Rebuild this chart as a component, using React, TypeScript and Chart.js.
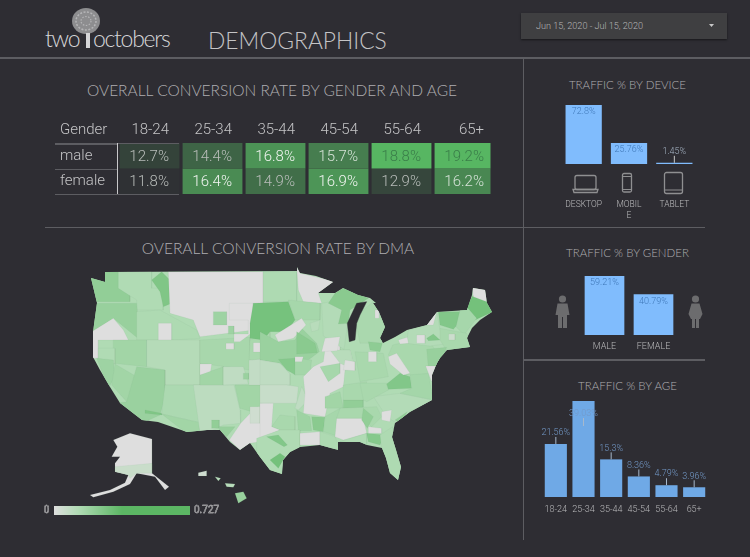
import React, { useEffect, useRef } from "react";
import { Chart, registerables } from "chart.js";

/* ---------- data ---------- */
const ageGroups = ["18-24", "25-34", "35-44", "45-54", "55-64", "65+"];
const tableColumns = ["Gender", ...ageGroups];
const maleRates = [12.7, 14.4, 16.8, 15.7, 18.8, 19.2];
const femaleRates = [11.8, 16.4, 14.9, 16.9, 12.9, 16.2];

const deviceLabels: (string | string[])[] = ["DESKTOP", ["MOBIL", "E"], "TABLET"];
const deviceShare = [72.8, 25.76, 1.45];
const genderLabels = ["MALE", "FEMALE"];
const genderShare = [59.21, 40.79];
const ageShare = [21.56, 39.03, 15.3, 8.36, 4.79, 3.96];

type Pt = [number, number];
type Region = [number, number[]];

/* map-unit outline of the lower 48 */
const nationOutline: Pt[] = [
  [105, 272], [297, 271], [297, 267], [300, 273], [316, 276], [333, 282], [318, 293], [335, 293], [343, 288], [358, 295], [370, 298], [376, 303],
  [373, 303], [379, 312], [385, 327], [380, 338], [383, 343], [395, 337], [407, 330], [427, 325], [437, 312], [467, 310], [472, 295], [473, 288],
  [485, 290], [487, 303], [492, 312], [480, 320], [472, 328], [467, 338], [470, 347], [447, 350], [440, 358], [437, 363], [432, 375], [432, 393], [432, 400], [410, 412],
  [395, 423], [392, 437], [396, 450], [401, 467], [398, 480], [390, 473], [386, 458], [382, 448], [367, 445], [360, 442], [338, 442], [338, 450],
  [320, 445], [300, 447], [290, 452], [283, 460], [282, 474], [270, 470], [260, 457], [250, 443], [240, 450], [230, 442], [220, 430],
  [207, 430], [187, 432], [158, 422], [142, 420], [120, 403], [110, 387], [100, 370], [93, 357], [93, 332], [97, 303],
  [91, 278], [105, 282],
];
/* lake shown inside the outline, in east-sheet units */
const lakeMichigan = [320, 125, 290, 130, 262, 190, 268, 245, 285, 240, 290, 190, 300, 165];

/* DMA patches: [rate share 0-1, x,y,x,y…] in west-sheet map units */
const westRegions: Region[] = [
  [0.55, [183, 35, 300, 35, 300, 125, 183, 125]],
  [0.3, [265, 35, 365, 35, 365, 85, 400, 85, 400, 150, 320, 150, 320, 120, 265, 85]],
  [0.7, [365, 60, 395, 35, 430, 70, 425, 130, 400, 140, 390, 95]],
  [0, [415, 35, 700, 35, 700, 130, 670, 130, 670, 210, 510, 230, 490, 180, 420, 160]],
  [0.5, [190, 130, 320, 130, 330, 240, 250, 175, 190, 215]],
  [0, [185, 215, 250, 175, 280, 210, 295, 240, 205, 240, 205, 295, 185, 295]],
  [0.32, [320, 155, 390, 150, 500, 210, 510, 235, 430, 240, 320, 240]],
  [0, [385, 190, 425, 190, 425, 240, 385, 240]],
  [0.42, [250, 240, 350, 240, 350, 320, 250, 310]],
  [0.27, [350, 240, 510, 240, 510, 375, 405, 375, 405, 330, 350, 320]],
  [0.3, [205, 265, 255, 265, 255, 312, 205, 295]],
  [0.45, [200, 295, 250, 300, 255, 350, 235, 385]],
  [0.42, [255, 312, 320, 350, 320, 395, 290, 425, 245, 375]],
  [0.48, [320, 320, 405, 330, 405, 410, 390, 465, 335, 490, 260, 430, 290, 425]],
  [0.7, [345, 450, 395, 460, 395, 465, 345, 460]],
  [0.33, [405, 375, 510, 375, 510, 488, 395, 462]],
  [0.42, [395, 462, 510, 488, 510, 520, 470, 520]],
  [0.22, [490, 375, 612, 375, 630, 450, 632, 490, 580, 495, 550, 510, 510, 520]],
  [0.55, [545, 480, 568, 480, 568, 505, 545, 505]],
  [0.5, [568, 500, 615, 500, 590, 530, 568, 510]],
  [0.37, [510, 240, 660, 232, 660, 330, 510, 310]],
  [0, [510, 312, 545, 312, 540, 345, 510, 345]],
  [0.42, [510, 345, 580, 320, 580, 375, 510, 375]],
  [0.2, [580, 320, 640, 320, 655, 372, 580, 375]],
  [0.48, [640, 340, 657, 340, 657, 358, 640, 358]],
  [0.42, [615, 375, 697, 375, 697, 430, 665, 455, 630, 445]],
  [0.18, [657, 300, 720, 295, 720, 375, 657, 375]],
  [0.36, [660, 240, 720, 215, 720, 295, 657, 300]],
  [0.45, [550, 155, 590, 155, 590, 195, 550, 195]],
  [0.45, [595, 198, 612, 198, 612, 222, 595, 222]],
  [0, [612, 222, 655, 222, 655, 180, 598, 180, 598, 130, 670, 130, 670, 215, 630, 245, 612, 245]],
  [0, [588, 250, 612, 250, 612, 268, 588, 268]],
  [0, [670, 248, 692, 248, 692, 276, 670, 276]],
  [0, [598, 540, 632, 490, 665, 455, 720, 430, 720, 540, 660, 550, 630, 570]],
  [0.1, [660, 440, 690, 440, 690, 490, 660, 490]],
];

/* DMA patches in east-sheet map units */
const eastRegions: Region[] = [
  [0.32, [10, 35, 110, 35, 110, 125, 10, 125]],
  [0, [110, 20, 120, 40, 230, 65, 175, 100, 185, 130, 130, 125, 115, 90]],
  [0.38, [85, 120, 182, 130, 180, 180, 105, 180]],
  [0.78, [-20, 130, 85, 125, 105, 180, 80, 215, 30, 215, 10, 240, -30, 235, -30, 190]],
  [0.48, [0, 215, 55, 245, 105, 240, 125, 205, 170, 250, 178, 275, 145, 300, 105, 345, 60, 310, 0, 300]],
  [0, [45, 225, 125, 175, 138, 195, 100, 235, 55, 245]],
  [0.62, [110, 215, 165, 250, 172, 278, 110, 282]],
  [0.65, [55, 298, 105, 295, 108, 345, 80, 330]],
  [0.4, [105, 295, 155, 300, 150, 345, 105, 345]],
  [0, [105, 290, 130, 290, 125, 305, 105, 305]],
  [0.2, [0, 300, 60, 310, 90, 342, 90, 375, 0, 375]],
  [0.15, [0, 375, 80, 375, 115, 380, 110, 430, 0, 430]],
  [0.2, [125, 380, 145, 420, 115, 450, 105, 445]],
  [0, [160, 320, 190, 305, 200, 235, 240, 230, 240, 270, 270, 270, 285, 330, 255, 330, 250, 380, 210, 400, 195, 470, 130, 460, 135, 400, 130, 350]],
  [0.38, [180, 320, 240, 310, 240, 340, 205, 365]],
  [0.25, [210, 270, 270, 270, 285, 330, 240, 310]],
  [0, [255, 300, 285, 305, 285, 332, 250, 330]],
  [0.42, [195, 410, 240, 395, 250, 445, 195, 445]],
  [0.55, [250, 420, 310, 420, 310, 445, 250, 445]],
  [0.36, [250, 375, 320, 365, 310, 420, 250, 420]],
  [0.36, [35, 500, 60, 465, 105, 470, 105, 510, 60, 510]],
  [0.45, [110, 450, 150, 470, 155, 512, 115, 512]],
  [0.62, [155, 470, 195, 472, 190, 515, 160, 510]],
  [0.38, [195, 470, 240, 445, 235, 530, 190, 515]],
  [0, [0, 430, 40, 430, 35, 500, 60, 510, 0, 535]],
  [0.3, [-10, 535, 60, 510, 120, 510, 120, 560, 70, 610, 65, 645, 20, 630, -10, 590]],
  [0.68, [20, 530, 55, 525, 82, 555, 72, 560]],
  [0.8, [30, 600, 60, 580, 75, 590, 55, 625]],
  [0, [120, 520, 180, 515, 180, 555, 120, 555]],
  [0.32, [180, 515, 225, 530, 240, 570, 180, 560]],
  [0, [230, 475, 310, 475, 320, 520, 250, 540, 225, 530]],
  [0.36, [240, 445, 350, 440, 365, 470, 335, 500, 310, 475, 230, 475]],
  [0.55, [310, 445, 340, 470, 322, 505, 305, 480]],
  [0.65, [320, 520, 372, 525, 360, 555, 325, 545]],
  [0.3, [240, 545, 320, 520, 320, 555, 240, 545]],
  [0, [325, 500, 365, 505, 365, 520, 325, 520]],
  [0.32, [360, 525, 398, 500, 430, 620, 415, 665, 385, 640, 365, 565]],
  [0.28, [340, 410, 420, 400, 520, 420, 450, 455, 410, 490, 380, 470]],
  [0, [365, 455, 395, 450, 390, 485, 365, 480]],
  [0.55, [405, 480, 442, 455, 420, 490]],
  [0.36, [300, 370, 380, 370, 385, 390, 320, 425, 310, 420]],
  [0.68, [380, 372, 420, 340, 450, 350, 455, 385, 385, 388]],
  [0.4, [450, 340, 505, 340, 520, 420, 420, 400, 455, 385]],
  [0.36, [285, 275, 370, 280, 385, 350, 300, 365]],
  [0, [325, 275, 350, 275, 350, 305, 325, 305]],
  [0.35, [285, 170, 340, 125, 380, 200, 365, 250, 300, 250]],
  [0, [345, 150, 358, 150, 358, 175, 345, 175]],
  [0.58, [325, 245, 367, 250, 360, 275, 330, 270]],
  [0.28, [185, 130, 240, 120, 262, 200, 252, 268, 190, 228]],
  [0.25, [150, 190, 180, 180, 175, 210, 155, 215]],
  [0.62, [225, 100, 250, 85, 325, 115, 270, 150, 265, 190, 235, 192, 245, 150, 205, 130]],
  [0, [195, 235, 240, 230, 232, 272, 185, 275]],
  [0.36, [398, 255, 500, 230, 545, 300, 510, 340, 440, 345, 385, 285]],
  [0, [385, 290, 410, 280, 450, 340, 430, 345, 390, 312]],
  [0.28, [445, 210, 500, 195, 530, 155, 540, 210, 570, 250, 510, 258, 440, 250]],
  [0, [415, 240, 442, 232, 445, 250, 420, 252]],
  [0, [500, 170, 530, 155, 520, 195, 498, 195]],
  [0, [470, 225, 495, 225, 495, 250, 470, 250]],
  [0.68, [500, 235, 520, 222, 540, 240, 505, 242]],
  [0.68, [535, 155, 600, 155, 600, 185, 580, 208, 540, 195]],
  [0.8, [618, 140, 640, 105, 672, 110, 700, 155, 640, 182]],
  [0, [635, 75, 680, 80, 680, 125, 640, 110]],
  [0.38, [600, 150, 620, 140, 650, 175, 612, 225, 588, 200]],
  [0.36, [540, 205, 620, 220, 635, 262, 560, 272, 540, 240]],
  [0.12, [566, 222, 585, 222, 585, 240, 566, 240]],
  [0.5, [500, 268, 560, 262, 540, 315, 505, 322]],
  [0, [497, 318, 527, 318, 515, 365]],
];

const alaskaMainland = [250, 540, 300, 520, 366, 537, 366, 640, 417, 680, 405, 690, 375, 650, 320, 640, 300, 672, 250, 695, 190, 712, 180, 705, 240, 690, 285, 668, 295, 645, 255, 635, 255, 610, 270, 590, 245, 590, 262, 560];
const alaskaSouth = [255, 620, 366, 610, 366, 640, 320, 640, 300, 655, 295, 645, 255, 635];
const hawaiiIslands: Region[] = [
  [0.5, [615, 700, 640, 695, 650, 715, 625, 730]],
  [0.1, [505, 638, 530, 632, 530, 648, 505, 648]],
  [0.25, [555, 650, 572, 655, 565, 663]],
  [0.25, [585, 670, 615, 672, 610, 682, 590, 680]],
];

/* ---------- helpers ---------- */
const BG = "#2e2d33";
const mix = (a: number[], b: number[], t: number) => {
  const c = a.map((v, i) => Math.round(v + (b[i] - v) * t));
  return `rgb(${c[0]},${c[1]},${c[2]})`;
};
const mapGrey = [222, 222, 222];
const mapPale = [176, 219, 180];
const mapGreen = [92, 182, 100];
const mapColor = (t: number) =>
  t < 0.3 ? mix(mapGrey, mapPale, t / 0.3) : mix(mapPale, mapGreen, (t - 0.3) / 0.7);
const cellColor = (v: number) => mix([46, 45, 51], [87, 182, 98], Math.min(1, Math.max(0, (v - 11.6) / 7)));
const cellText = (v: number) => (v >= 18 ? "#3a7d49" : v >= 16.3 ? "#f2f5f2" : v >= 15 ? "#d5e2d7" : "#b9bdba");

const west = (f: number[]): Pt[] => {
  const o: Pt[] = [];
  for (let i = 0; i < f.length; i += 2) o.push([30 + f[i] / 3, 260 + f[i + 1] / 3]);
  return o;
};
const east = (f: number[]): Pt[] => {
  const o: Pt[] = [];
  for (let i = 0; i < f.length; i += 2) o.push([260 + f[i] / 3, 260 + f[i + 1] / 3]);
  return o;
};

const tracePath = (chart: any, pts: Pt[]) => {
  const { ctx, scales } = chart;
  ctx.beginPath();
  pts.forEach(([x, y], i) => {
    const px = scales.x.getPixelForValue(x);
    const py = scales.y.getPixelForValue(y);
    if (i === 0) ctx.moveTo(px, py);
    else ctx.lineTo(px, py);
  });
  ctx.closePath();
};

/* registered before the Filler so that the clip is active while it paints */
const nationClip = {
  id: "nationClip",
  beforeDatasetDraw(chart: any, args: any) {
    if (chart.data.datasets[args.index].inNation) {
      chart.ctx.save();
      tracePath(chart, nationOutline);
      chart.ctx.clip();
    }
  },
  afterDatasetDraw(chart: any, args: any) {
    if (chart.data.datasets[args.index].inNation) chart.ctx.restore();
  },
};
Chart.register(nationClip);
Chart.register(...registerables);

const useChart = (make: (c: HTMLCanvasElement) => Chart) => {
  const ref = useRef<HTMLCanvasElement>(null);
  useEffect(() => {
    const chart = make(ref.current!);
    return () => chart.destroy();
  }, []);
  return ref;
};

const box = (left: number, top: number, width: number, height: number): React.CSSProperties => ({
  position: "absolute", left, top, width, height,
});

/* ---------- map ---------- */
function MapChart() {
  const ref = useChart((c) => {
    const shape = (pts: Pt[], color: string, inNation: boolean, edge = "rgba(120,150,125,0.18)") => ({
      data: [...pts, pts[0]].map(([x, y]) => ({ x, y })),
      showLine: true, fill: "shape", tension: 0, backgroundColor: color,
      borderColor: edge, borderWidth: 0.4, pointRadius: 0, inNation,
    });
    const list: any[] = [
      shape(nationOutline, mapColor(0.3), false, "rgba(0,0,0,0)"),
      ...westRegions.map(([v, f]) => shape(west(f), mapColor(v), true)),
      ...eastRegions.map(([v, f]) => shape(east(f), mapColor(v), true)),
      shape(east(lakeMichigan), BG, false, BG),
      shape(west(alaskaMainland), mapColor(0), false),
      shape(west(alaskaSouth), mapColor(0.14), false),
      ...hawaiiIslands.map(([v, f]) => shape(west(f), mapColor(v), false)),
    ];
    list.forEach((d, i) => (d.order = -i));
    return new Chart(c, {
      type: "scatter",
      data: { datasets: list },
      options: {
        animation: false, responsive: false, events: [],
        layout: { padding: 0 },
        plugins: { legend: { display: false }, tooltip: { enabled: false } },
        scales: {
          x: { type: "linear", min: 40, max: 500, display: false },
          y: { type: "linear", min: 260, max: 530, reverse: true, display: false },
        },
      },
    } as any);
  });
  return <canvas ref={ref} width={460} height={270} style={{ ...box(40, 260, 460, 270), filter: "blur(0.4px)" }} />;
}

/* ---------- conversion table ---------- */
function RateTable() {
  const ref = useChart((c) => {
    const rows = [
      { name: "male", values: maleRates, span: [1, 2] },
      { name: "female", values: femaleRates, span: [0, 1] },
    ];
    const tableText = {
      id: "tableText",
      afterDatasetsDraw(chart: any) {
        const { ctx, scales } = chart;
        ctx.save();
        ctx.font = "300 15px Roboto";
        ctx.textBaseline = "middle";
        tableColumns.forEach((name, i) => {
          ctx.fillStyle = "#c4c4c6";
          if (i === 0) {
            ctx.textAlign = "left";
            ctx.fillText(name, 5, 15);
          } else {
            ctx.textAlign = "right";
            ctx.fillText(name, scales.x.getPixelForValue(i) + 19.5, 15);
          }
        });
        rows.forEach((r) => {
          const y = scales.y.getPixelForValue(r.span[0] + 0.5);
          ctx.textAlign = "left";
          ctx.fillStyle = "#c4c4c6";
          ctx.fillText(r.name, 5, y);
          ctx.textAlign = "right";
          r.values.forEach((v, i) => {
            ctx.fillStyle = cellText(v);
            ctx.fillText(v.toFixed(1) + "%", scales.x.getPixelForValue(i + 1) + 19.5, y + 1);
          });
        });
        ctx.restore();
      },
    };
    return new Chart(c, {
      type: "bar",
      data: {
        labels: tableColumns,
        datasets: rows.map((r) => ({
          label: r.name,
          data: [null, ...r.values.map(() => r.span)],
          backgroundColor: [BG, ...r.values.map(cellColor)],
          borderWidth: 0, grouped: false, barPercentage: 0.95, categoryPercentage: 1,
          clip: { left: 0, top: 0, right: -5.5, bottom: 0 },
        })),
      },
      options: {
        animation: false, responsive: false, events: [],
        layout: { padding: { top: 28, bottom: 6, left: 0, right: 0 } },
        plugins: { legend: { display: false }, tooltip: { enabled: false } },
        scales: {
          x: { display: false },
          y: { display: false, min: 0, max: 2 },
        },
      },
      plugins: [tableText],
    } as any);
  });
  return <canvas ref={ref} width={441} height={85} style={box(55, 115, 441, 85)} />;
}

/* ---------- small bar charts ---------- */
type BarProps = {
  left: number; top: number; width: number; height: number; belowAxis: number; padTop: number; tickPad: number;
  labels: (string | string[])[]; values: number[]; decimals: number[]; color: string;
  inner: string; outer: string; leader: string; barPct: number; tickFont: number; alwaysLeader?: boolean;
};
function BarPanel(p: BarProps) {
  const ref = useChart((c) => {
    const valueLabels = {
      id: "valueLabels",
      afterDatasetsDraw(chart: any) {
        const { ctx, chartArea } = chart;
        ctx.save();
        ctx.font = "300 9px Roboto";
        ctx.textAlign = "center";
        ctx.textBaseline = "middle";
        chart.getDatasetMeta(0).data.forEach((bar: any, i: number) => {
          const text = p.values[i].toFixed(p.decimals[i]) + "%";
          const tall = bar.base - bar.y > 15;
          if (!p.alwaysLeader && tall) {
            ctx.fillStyle = p.inner;
            ctx.fillText(text, bar.x, bar.y + 7);
            return;
          }
          const clampInside = bar.y - 11 < chartArea.top;
          const ty = clampInside ? bar.y + 13 : bar.y - 11;
          ctx.strokeStyle = p.leader;
          ctx.lineWidth = 1;
          ctx.beginPath();
          ctx.moveTo(bar.x, ty + 4);
          ctx.lineTo(bar.x, clampInside ? ty + 12 : bar.y);
          ctx.stroke();
          ctx.fillStyle = p.outer;
          ctx.fillText(text, bar.x, ty);
        });
        ctx.restore();
      },
    };
    return new Chart(c, {
      type: "bar",
      data: {
        labels: p.labels,
        datasets: [{
          data: p.values, backgroundColor: p.color, borderWidth: 0, minBarLength: 1,
          barPercentage: p.barPct, categoryPercentage: 1,
        }],
      },
      options: {
        animation: false, responsive: false, events: [],
        layout: { padding: { top: p.padTop, bottom: 0, left: 0, right: 0 } },
        plugins: { legend: { display: false }, tooltip: { enabled: false } },
        scales: {
          x: {
            grid: { display: false, drawTicks: false }, border: { display: false },
            afterFit: (s: any) => { s.height = p.belowAxis; s.paddingLeft = 0; s.paddingRight = 0; },
            ticks: {
              color: "#b8b8ba", padding: p.tickPad, maxRotation: 0, autoSkip: false,
              font: { family: "Roboto", size: p.tickFont, weight: 300, lineHeight: 1.25 },
            },
          },
          y: { display: false, min: 0, max: Math.max(...p.values) },
        },
      },
      plugins: [valueLabels],
    } as any);
  });
  return <canvas ref={ref} width={p.width} height={p.height} style={box(p.left, p.top, p.width, p.height)} />;
}

/* ---------- page ---------- */
const heading = (text: string, left: number, top: number, width: number, size: number) => (
  <div style={{
    ...box(left, top, width, size + 6), textAlign: "center", whiteSpace: "nowrap", color: "#aeaeb1",
    fontFamily: "Lato", fontWeight: 300, fontSize: size, lineHeight: `${size + 6}px`,
  }}>{text}</div>
);
const rule = (left: number, top: number, width: number, height: number) => (
  <div style={{ ...box(left, top, width, height), background: "#5d5d62" }} />
);
const logoText: React.CSSProperties = {
  color: "#d6d6d8", fontFamily: "Lato", fontWeight: 300, fontSize: 23, lineHeight: "26px", letterSpacing: -1.3, whiteSpace: "nowrap",
};

export default function App() {
  return (
    <div style={{ position: "fixed", left: 0, top: 0, width: 750, height: 557, background: BG, overflow: "hidden" }}>
      {/* logo */}
      <svg style={box(71, 7, 30, 30)} viewBox="0 0 30 30">
        <ellipse cx="15" cy="14" rx="14" ry="13" fill="#8d8d8f" />
        <ellipse cx="15" cy="14" rx="10" ry="9" fill="none" stroke="#b5b5b7" strokeWidth="1.5" strokeDasharray="2 1.5" />
        <ellipse cx="15" cy="14" rx="5" ry="4.5" fill="none" stroke="#b5b5b7" strokeWidth="1.2" strokeDasharray="1.5 1.5" />
      </svg>
      <div style={{ ...box(45, 25, 40, 26), ...logoText }}>two</div>
      <div style={{ ...box(85.5, 33, 4.5, 15), background: "#d6d6d8" }} />
      <div style={{ ...box(93, 25, 85, 26), ...logoText }}>octobers</div>
      <div style={{ ...box(208, 24, 190, 32), color: "#c4c4c6", fontFamily: "Lato", fontWeight: 300, fontSize: 22.8, lineHeight: "32px", whiteSpace: "nowrap" }}>DEMOGRAPHICS</div>

      {/* date control */}
      <div style={{ ...box(521, 13, 206, 26), background: "#3f3f41", boxShadow: "0 1px 2px rgba(0,0,0,0.5)" }} />
      <div style={{ ...box(536, 20, 130, 12), color: "#b4b4b6", fontFamily: "Roboto", fontWeight: 300, fontSize: 9.1, lineHeight: "12px", whiteSpace: "nowrap" }}>Jun 15, 2020 - Jul 15, 2020</div>
      <svg style={box(709, 24, 5, 3)} viewBox="0 0 5 3"><path d="M0 0H5L2.5 3Z" fill="#c8c8c8" /></svg>

      {/* rules */}
      {rule(0, 57, 750, 1.5)}
      {rule(523, 57, 1, 483)}
      {rule(45, 227, 660, 1)}
      {rule(523, 359, 182, 1.5)}

      {/* left column */}
      {heading("OVERALL CONVERSION RATE BY GENDER AND AGE", 45, 80, 454, 15.5)}
      <RateTable />
      {rule(55, 143, 62, 1.5)}
      {rule(55, 168.5, 62, 1)}
      {rule(55, 193.5, 124, 1.5)}
      {rule(118, 142.5, 61, 1)}
      <div style={{ ...box(117, 143, 1, 51), background: "#c8c8ca" }} />
      {heading("OVERALL CONVERSION RATE BY DMA", 45, 238, 466, 15.5)}
      <MapChart />
      <div style={{ ...box(54, 506, 136, 8.5), background: "linear-gradient(90deg,#dedede 0%,#b0dbb4 18%,#5cb664 50%,#5cb664 100%)" }} />
      <div style={{ ...box(42, 503, 9, 14), color: BG, WebkitTextStroke: "0.4px #e6e6e6", fontFamily: "Roboto", fontSize: 10, lineHeight: "14px", textAlign: "center" } as any}>0</div>
      <div style={{ ...box(194, 503, 30, 14), color: BG, WebkitTextStroke: "0.4px #e6e6e6", fontFamily: "Roboto", fontSize: 10, lineHeight: "14px", whiteSpace: "nowrap" } as any}>0.727</div>

      {/* device */}
      {heading("TRAFFIC % BY DEVICE", 523, 76, 209, 11.5)}
      <BarPanel left={561} top={100} width={136} height={125} belowAxis={61} padTop={5} tickPad={36}
        labels={deviceLabels} values={deviceShare} decimals={[1, 2, 2]} color="#80bcfd"
        inner="#3f78b8" outer="#a6b4c4" leader="#c8c8c8" barPct={0.8} tickFont={8.5} />
      <svg style={box(570, 170, 120, 26)} viewBox="0 0 120 26" fill="none" stroke="#8f8f91" strokeWidth="1.3">
        <rect x="5" y="5.5" width="21" height="14" rx="2" />
        <path d="M3 19.5H28L27 22.5H4Z" />
        <rect x="52.5" y="3.5" width="9" height="18.5" rx="1.5" />
        <path d="M52.5 6.5H61.5M52.5 19.5H61.5" strokeWidth="1" />
        <rect x="94.5" y="2.5" width="18" height="21" rx="2" />
        <path d="M94.5 20H112.5" strokeWidth="1" />
      </svg>

      {/* gender */}
      {heading("TRAFFIC % BY GENDER", 523, 244, 209, 11.5)}
      <BarPanel left={580} top={270} width={98} height={85} belowAxis={20} padTop={6} tickPad={6}
        labels={genderLabels} values={genderShare} decimals={[2, 2]} color="#80bcfd"
        inner="#3f78b8" outer="#a6b4c4" leader="#c8c8c8" barPct={0.81} tickFont={9} />
      <svg style={box(555, 295, 15, 35)} viewBox="0 0 15 35" fill="#6c6c6e">
        <circle cx="7.5" cy="4" r="3.6" />
        <path d="M2.5 8.5H12.5L14.5 20H12V33H8V22H7V33H3V20H.5Z" />
      </svg>
      <svg style={box(688, 295, 15, 35)} viewBox="0 0 15 35" fill="#6c6c6e">
        <circle cx="7.5" cy="4" r="3.6" />
        <path d="M3.5 8.5H11.5L14.5 19L12 24H11V33H8V24H7V33H4V24H3L.5 19Z" />
      </svg>

      {/* age */}
      {heading("TRAFFIC % BY AGE", 523, 377, 209, 11.5)}
      <BarPanel left={542} top={395} width={166} height={125} belowAxis={23} padTop={6} tickPad={7}
        labels={ageGroups} values={ageShare} decimals={[2, 2, 1, 2, 2, 2]} color="#6fa9e6"
        inner="#7fb2ea" outer="#7399c8" leader="#a6b8cc" barPct={0.8} tickFont={9} alwaysLeader />
    </div>
  );
}
